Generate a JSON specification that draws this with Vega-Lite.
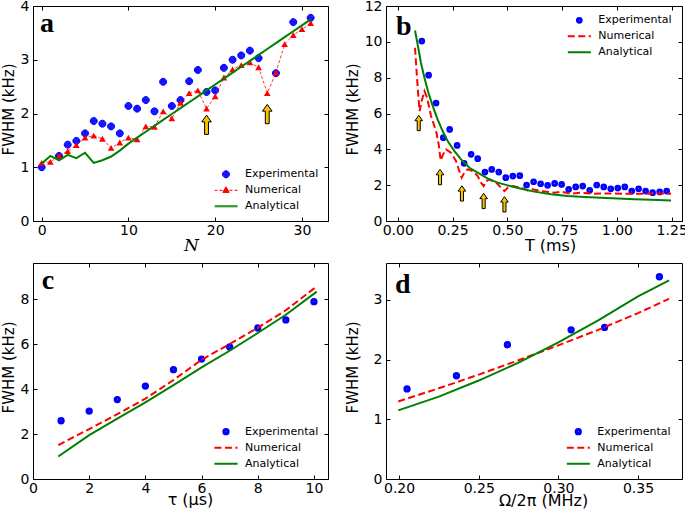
{
  "$schema": "https://vega.github.io/schema/vega-lite/v6.json",
  "background": "white",
  "padding": {"left": 0, "top": -2, "right": 0, "bottom": 0},
  "bounds": "flush",
  "columns": 2,
  "spacing": {"row": 42, "column": 58},
  "resolve": {
    "scale": {"color": "independent", "shape": "independent"},
    "legend": {"color": "independent", "shape": "independent"}
  },
  "config": {
    "font": "DejaVu Sans",
    "view": {"stroke": "black", "strokeWidth": 1},
    "axis": {"grid": false, "domain": false, "ticks": true, "tickSize": -4, "tickColor": "black", "tickWidth": 1,
      "labelFont": "DejaVu Sans", "labelFontSize": 14, "labelColor": "black", "labelPadding": 8, "labelFlush": false, "labelOverlap": false,
      "titleFont": "DejaVu Sans", "titleFontSize": 15, "titleFontWeight": "normal", "titleColor": "black"},
    "axisBottom": {"labelPadding": 6, "titleFontSize": 16},
    "legend": {"title": null, "orient": "none", "columns": 1, "clipHeight": 14, "symbolSize": 196, "symbolOffset": 4, "rowPadding": 2, "padding": 0,
      "labelFont": "DejaVu Sans", "labelFontSize": 11, "labelColor": "black", "labelLimit": 300, "symbolFillColor": "transparent"}
  },
  "datasets": {
    "a_exp": [
      {"x": 0, "y": 1.00, "s": "Experimental"}, {"x": 2, "y": 1.21, "s": "Experimental"}, {"x": 3, "y": 1.42, "s": "Experimental"},
      {"x": 4, "y": 1.49, "s": "Experimental"}, {"x": 5, "y": 1.63, "s": "Experimental"}, {"x": 6, "y": 1.86, "s": "Experimental"},
      {"x": 7, "y": 1.81, "s": "Experimental"}, {"x": 8, "y": 1.76, "s": "Experimental"}, {"x": 9, "y": 1.63, "s": "Experimental"},
      {"x": 10, "y": 2.14, "s": "Experimental"}, {"x": 11, "y": 2.09, "s": "Experimental"}, {"x": 12, "y": 2.25, "s": "Experimental"},
      {"x": 13, "y": 2.04, "s": "Experimental"}, {"x": 14, "y": 2.59, "s": "Experimental"}, {"x": 15, "y": 2.14, "s": "Experimental"},
      {"x": 16, "y": 2.25, "s": "Experimental"}, {"x": 17, "y": 2.60, "s": "Experimental"}, {"x": 18, "y": 2.81, "s": "Experimental"},
      {"x": 19, "y": 2.40, "s": "Experimental"}, {"x": 20, "y": 2.43, "s": "Experimental"}, {"x": 21, "y": 2.85, "s": "Experimental"},
      {"x": 22, "y": 3.00, "s": "Experimental"}, {"x": 23, "y": 3.08, "s": "Experimental"}, {"x": 24, "y": 3.17, "s": "Experimental"},
      {"x": 25, "y": 3.03, "s": "Experimental"}, {"x": 27, "y": 2.75, "s": "Experimental"}, {"x": 29, "y": 3.70, "s": "Experimental"},
      {"x": 31, "y": 3.78, "s": "Experimental"}
    ],
    "a_num": [
      {"x": 0, "y": 1.08}, {"x": 1, "y": 1.10}, {"x": 2, "y": 1.21}, {"x": 3, "y": 1.30}, {"x": 4, "y": 1.41}, {"x": 5, "y": 1.55},
      {"x": 6, "y": 1.59}, {"x": 7, "y": 1.53}, {"x": 8, "y": 1.36}, {"x": 9, "y": 1.46}, {"x": 10, "y": 1.55}, {"x": 11, "y": 1.52},
      {"x": 12, "y": 1.76}, {"x": 13, "y": 1.75}, {"x": 14, "y": 2.04}, {"x": 15, "y": 1.91}, {"x": 16, "y": 2.20}, {"x": 17, "y": 2.38},
      {"x": 18, "y": 2.43}, {"x": 19, "y": 2.09}, {"x": 20, "y": 2.32}, {"x": 21, "y": 2.67}, {"x": 22, "y": 2.82}, {"x": 23, "y": 2.90},
      {"x": 24, "y": 2.95}, {"x": 25, "y": 2.86}, {"x": 26, "y": 2.38}, {"x": 27, "y": 2.76}, {"x": 28, "y": 3.29}, {"x": 29, "y": 3.46},
      {"x": 30, "y": 3.57}, {"x": 31, "y": 3.68}
    ],
    "a_ana": [
      {"x": 0, "y": 1.07}, {"x": 1, "y": 1.21}, {"x": 2, "y": 1.13}, {"x": 3, "y": 1.23}, {"x": 4, "y": 1.17}, {"x": 5, "y": 1.27},
      {"x": 6, "y": 1.08}, {"x": 7, "y": 1.13}, {"x": 8, "y": 1.20}, {"x": 9, "y": 1.31}, {"x": 10, "y": 1.44}, {"x": 11, "y": 1.55},
      {"x": 12, "y": 1.66}, {"x": 13, "y": 1.77}, {"x": 14, "y": 1.88}, {"x": 15, "y": 1.99}, {"x": 16, "y": 2.10}, {"x": 17, "y": 2.21},
      {"x": 18, "y": 2.32}, {"x": 19, "y": 2.43}, {"x": 20, "y": 2.54}, {"x": 21, "y": 2.65}, {"x": 22, "y": 2.76}, {"x": 23, "y": 2.87},
      {"x": 24, "y": 2.98}, {"x": 25, "y": 3.09}, {"x": 26, "y": 3.20}, {"x": 27, "y": 3.31}, {"x": 28, "y": 3.42}, {"x": 29, "y": 3.53},
      {"x": 30, "y": 3.64}, {"x": 31, "y": 3.75}
    ],
    "a_arr": [{"x": 19, "y": 1.79}, {"x": 26, "y": 1.99}],
    "b_exp": [
      {"x": 0.110, "y": 10.04, "s": "Experimental"}, {"x": 0.141, "y": 8.14, "s": "Experimental"}, {"x": 0.175, "y": 6.58, "s": "Experimental"},
      {"x": 0.208, "y": 4.65, "s": "Experimental"}, {"x": 0.237, "y": 5.11, "s": "Experimental"}, {"x": 0.271, "y": 4.22, "s": "Experimental"},
      {"x": 0.303, "y": 3.22, "s": "Experimental"}, {"x": 0.335, "y": 3.72, "s": "Experimental"}, {"x": 0.365, "y": 3.48, "s": "Experimental"},
      {"x": 0.398, "y": 2.73, "s": "Experimental"}, {"x": 0.429, "y": 2.88, "s": "Experimental"}, {"x": 0.461, "y": 2.73, "s": "Experimental"},
      {"x": 0.493, "y": 2.42, "s": "Experimental"}, {"x": 0.525, "y": 2.51, "s": "Experimental"}, {"x": 0.557, "y": 2.53, "s": "Experimental"},
      {"x": 0.588, "y": 2.01, "s": "Experimental"}, {"x": 0.620, "y": 2.19, "s": "Experimental"}, {"x": 0.652, "y": 2.08, "s": "Experimental"},
      {"x": 0.684, "y": 1.99, "s": "Experimental"}, {"x": 0.716, "y": 2.10, "s": "Experimental"}, {"x": 0.748, "y": 2.04, "s": "Experimental"},
      {"x": 0.780, "y": 1.77, "s": "Experimental"}, {"x": 0.812, "y": 1.90, "s": "Experimental"}, {"x": 0.844, "y": 1.95, "s": "Experimental"},
      {"x": 0.876, "y": 1.71, "s": "Experimental"}, {"x": 0.908, "y": 2.01, "s": "Experimental"}, {"x": 0.940, "y": 1.90, "s": "Experimental"},
      {"x": 0.972, "y": 1.80, "s": "Experimental"}, {"x": 1.004, "y": 1.84, "s": "Experimental"}, {"x": 1.036, "y": 1.90, "s": "Experimental"},
      {"x": 1.068, "y": 1.67, "s": "Experimental"}, {"x": 1.099, "y": 1.80, "s": "Experimental"}, {"x": 1.131, "y": 1.67, "s": "Experimental"},
      {"x": 1.163, "y": 1.58, "s": "Experimental"}, {"x": 1.195, "y": 1.62, "s": "Experimental"}, {"x": 1.227, "y": 1.67, "s": "Experimental"}
    ],
    "b_num": [
      {"x": 0.079, "y": 9.67}, {"x": 0.088, "y": 7.99}, {"x": 0.096, "y": 6.69}, {"x": 0.100, "y": 6.13}, {"x": 0.109, "y": 6.69},
      {"x": 0.122, "y": 7.25}, {"x": 0.134, "y": 6.88}, {"x": 0.152, "y": 5.86}, {"x": 0.175, "y": 5.02}, {"x": 0.187, "y": 4.28},
      {"x": 0.196, "y": 3.38}, {"x": 0.207, "y": 3.72}, {"x": 0.220, "y": 4.00}, {"x": 0.243, "y": 3.81}, {"x": 0.266, "y": 3.35},
      {"x": 0.281, "y": 2.79}, {"x": 0.292, "y": 2.42}, {"x": 0.304, "y": 2.70}, {"x": 0.319, "y": 2.88}, {"x": 0.342, "y": 2.79},
      {"x": 0.365, "y": 2.51}, {"x": 0.380, "y": 2.14}, {"x": 0.392, "y": 1.95}, {"x": 0.404, "y": 2.23}, {"x": 0.418, "y": 2.32},
      {"x": 0.449, "y": 2.14}, {"x": 0.471, "y": 1.86}, {"x": 0.487, "y": 1.67}, {"x": 0.502, "y": 1.86}, {"x": 0.525, "y": 1.95},
      {"x": 0.563, "y": 1.86}, {"x": 0.593, "y": 1.71}, {"x": 0.616, "y": 1.77}, {"x": 0.654, "y": 1.67}, {"x": 0.715, "y": 1.58},
      {"x": 0.745, "y": 1.64}, {"x": 0.791, "y": 1.52}, {"x": 0.836, "y": 1.58}, {"x": 0.897, "y": 1.52}, {"x": 0.958, "y": 1.54},
      {"x": 1.034, "y": 1.52}, {"x": 1.110, "y": 1.52}, {"x": 1.186, "y": 1.54}, {"x": 1.247, "y": 1.52}
    ],
    "b_ana": [
      {"x": 0.079, "y": 10.63}, {"x": 0.091, "y": 9.85}, {"x": 0.106, "y": 8.83}, {"x": 0.122, "y": 7.99}, {"x": 0.140, "y": 7.16},
      {"x": 0.160, "y": 6.41}, {"x": 0.182, "y": 5.67}, {"x": 0.205, "y": 5.02}, {"x": 0.228, "y": 4.46}, {"x": 0.259, "y": 3.90},
      {"x": 0.289, "y": 3.44}, {"x": 0.327, "y": 2.97}, {"x": 0.365, "y": 2.70}, {"x": 0.411, "y": 2.36}, {"x": 0.456, "y": 2.14},
      {"x": 0.502, "y": 1.99}, {"x": 0.563, "y": 1.80}, {"x": 0.623, "y": 1.64}, {"x": 0.700, "y": 1.49}, {"x": 0.776, "y": 1.39},
      {"x": 0.852, "y": 1.34}, {"x": 0.928, "y": 1.30}, {"x": 1.004, "y": 1.25}, {"x": 1.080, "y": 1.21}, {"x": 1.156, "y": 1.19},
      {"x": 1.247, "y": 1.15}
    ],
    "b_arr": [{"x": 0.096, "y": 5.47}, {"x": 0.193, "y": 2.45}, {"x": 0.293, "y": 1.54}, {"x": 0.392, "y": 1.12}, {"x": 0.487, "y": 0.93}],
    "c_exp": [
      {"x": 1, "y": 2.59, "s": "Experimental"}, {"x": 2, "y": 3.02, "s": "Experimental"}, {"x": 3, "y": 3.53, "s": "Experimental"},
      {"x": 4, "y": 4.13, "s": "Experimental"}, {"x": 5, "y": 4.86, "s": "Experimental"}, {"x": 6, "y": 5.33, "s": "Experimental"},
      {"x": 7, "y": 5.87, "s": "Experimental"}, {"x": 8, "y": 6.71, "s": "Experimental"}, {"x": 9, "y": 7.07, "s": "Experimental"},
      {"x": 10, "y": 7.88, "s": "Experimental"}
    ],
    "c_num": [
      {"x": 0.9, "y": 1.51}, {"x": 2, "y": 2.22}, {"x": 3, "y": 2.88}, {"x": 4, "y": 3.57}, {"x": 5, "y": 4.40}, {"x": 6, "y": 5.30},
      {"x": 7, "y": 6.00}, {"x": 8, "y": 6.72}, {"x": 9, "y": 7.50}, {"x": 10.1, "y": 8.56}
    ],
    "c_ana": [
      {"x": 0.9, "y": 1.00}, {"x": 2, "y": 1.95}, {"x": 3, "y": 2.68}, {"x": 4, "y": 3.41}, {"x": 5, "y": 4.17}, {"x": 6, "y": 4.96},
      {"x": 7, "y": 5.70}, {"x": 8, "y": 6.49}, {"x": 9, "y": 7.30}, {"x": 10.1, "y": 8.33}
    ],
    "d_exp": [
      {"x": 0.205, "y": 1.51, "s": "Experimental"}, {"x": 0.236, "y": 1.73, "s": "Experimental"}, {"x": 0.268, "y": 2.25, "s": "Experimental"},
      {"x": 0.308, "y": 2.50, "s": "Experimental"}, {"x": 0.329, "y": 2.54, "s": "Experimental"}, {"x": 0.3634, "y": 3.39, "s": "Experimental"}
    ],
    "d_num": [
      {"x": 0.1995, "y": 1.30}, {"x": 0.225, "y": 1.52}, {"x": 0.25, "y": 1.75}, {"x": 0.275, "y": 1.99}, {"x": 0.30, "y": 2.24},
      {"x": 0.325, "y": 2.50}, {"x": 0.35, "y": 2.78}, {"x": 0.3695, "y": 3.02}
    ],
    "d_ana": [
      {"x": 0.1995, "y": 1.15}, {"x": 0.225, "y": 1.38}, {"x": 0.25, "y": 1.65}, {"x": 0.275, "y": 1.95}, {"x": 0.30, "y": 2.29},
      {"x": 0.325, "y": 2.66}, {"x": 0.35, "y": 3.06}, {"x": 0.3695, "y": 3.33}
    ]
  },
  "concat": [
    {
      "width": 295, "height": 215,
      "resolve": {"axis": {"x": "independent", "y": "independent"}},
      "layer": [
        {
          "data": {"name": "a_exp"},
          "mark": {"type": "point", "filled": false, "size": 196, "strokeWidth": 1, "opacity": 1},
          "encoding": {
            "x": {"field": "x", "type": "quantitative", "scale": {"domain": [-1, 33], "nice": false, "zero": false},
              "axis": {"orient": "bottom", "values": [0, 10, 20, 30], "title": "N", "titleFont": "DejaVu Serif", "titleFontStyle": "italic", "titleFontSize": 17, "titleX": 158, "titleY": 29, "titleBaseline": "alphabetic"}},
            "y": {"field": "y", "type": "quantitative", "scale": {"domain": [0, 4], "nice": false, "zero": false},
              "axis": {"orient": "left", "values": [0, 1, 2, 3, 4], "title": "FWHM (kHz)", "titleX": -20, "titleY": 103, "titleBaseline": "alphabetic"}},
            "color": {"field": "s", "type": "nominal",
              "scale": {"domain": ["Experimental", "Numerical", "Analytical"], "range": ["#0000ff", "#ff0000", "#007f00"]},
              "legend": {"legendX": 181.5, "legendY": 161.3, "labelOffset": 11.5, "symbolStrokeWidth": 1}},
            "shape": {"field": "s", "type": "nominal",
              "scale": {"domain": ["Experimental", "Numerical", "Analytical"], "range": [
                "M0.5,0A0.5,0.5 0 1,1 -0.5,0A0.5,0.5 0 1,1 0.5,0ZM0.4286,0A0.4286,0.4286 0 1,1 -0.4286,0A0.4286,0.4286 0 1,1 0.4286,0ZM0.357,0A0.357,0.357 0 1,1 -0.357,0A0.357,0.357 0 1,1 0.357,0ZM0.2857,0A0.2857,0.2857 0 1,1 -0.2857,0A0.2857,0.2857 0 1,1 0.2857,0ZM0.214,0A0.214,0.214 0 1,1 -0.214,0A0.214,0.214 0 1,1 0.214,0ZM0.143,0A0.143,0.143 0 1,1 -0.143,0A0.143,0.143 0 1,1 0.143,0ZM0.071,0A0.071,0.071 0 1,1 -0.071,0A0.071,0.071 0 1,1 0.071,0Z",
                "M-1.65,0L-1.22,0M-0.93,0L-0.5,0M0.5,0L0.93,0M1.22,0L1.65,0M0,-0.5L0.45,0.3L-0.45,0.3ZM0,-0.4L0.39,0.26L-0.39,0.26ZM0,-0.3L0.3,0.21L-0.3,0.21ZM0,-0.2L0.22,0.16L-0.22,0.16ZM0,-0.1L0.12,0.1L-0.12,0.1Z",
                "M-1.65,-0.07L1.65,-0.07M-1.65,0.07L1.65,0.07"]},
              "legend": {"legendX": 181.5, "legendY": 161.3, "labelOffset": 11.5, "symbolStrokeWidth": 1}}
          }
        },
        {
          "data": {"name": "a_num"},
          "mark": {"type": "line", "color": "#ff0000", "strokeWidth": 0.8, "strokeDash": [3, 2]},
          "encoding": {
            "x": {"field": "x", "type": "quantitative", "axis": {"orient": "top", "values": [0, 10, 20, 30], "labels": false, "title": null}},
            "y": {"field": "y", "type": "quantitative", "axis": {"orient": "right", "values": [0, 1, 2, 3, 4], "labels": false, "title": null}}
          }
        },
        {
          "data": {"name": "a_num"},
          "mark": {"type": "point", "shape": "triangle-up", "filled": true, "size": 45, "color": "#ff0000", "opacity": 1},
          "encoding": {
            "x": {"field": "x", "type": "quantitative", "axis": null},
            "y": {"field": "y", "type": "quantitative", "axis": null}
          }
        },
        {
          "data": {"name": "a_ana"},
          "mark": {"type": "line", "color": "#007f00", "strokeWidth": 2},
          "encoding": {
            "x": {"field": "x", "type": "quantitative", "axis": null},
            "y": {"field": "y", "type": "quantitative", "axis": null}
          }
        },
        {
          "data": {"name": "a_arr"},
          "mark": {"type": "point", "shape": "M0,-1L0.5,-0.3L0.2,-0.3L0.2,1L-0.2,1L-0.2,-0.3L-0.5,-0.3Z", "filled": true, "size": 372, "fill": "#f8c400", "stroke": "black", "strokeWidth": 1, "opacity": 1},
          "encoding": {
            "x": {"field": "x", "type": "quantitative", "axis": null},
            "y": {"field": "y", "type": "quantitative", "axis": null}
          }
        },
        {
          "data": {"values": [{"label": "a"}]},
          "mark": {"type": "text", "font": "Liberation Serif", "fontSize": 28, "fontWeight": "bold", "align": "left", "baseline": "alphabetic", "color": "black"},
          "encoding": {
            "x": {"datum": -0.193, "type": "quantitative", "axis": null},
            "y": {"datum": 3.522, "type": "quantitative", "axis": null},
            "text": {"field": "label"}
          }
        }
      ]
    },
    {
      "width": 296, "height": 215,
      "resolve": {"axis": {"x": "independent", "y": "independent"}},
      "layer": [
        {
          "data": {"name": "b_exp"},
          "mark": {"type": "point", "filled": false, "size": 196, "strokeWidth": 2, "opacity": 1},
          "encoding": {
            "x": {"field": "x", "type": "quantitative", "scale": {"domain": [-0.0534, 1.297], "nice": false, "zero": false},
              "axis": {"orient": "bottom", "values": [0, 0.25, 0.5, 0.75, 1, 1.25], "format": ".2f", "title": "T (ms)", "titleX": 164, "titleY": 29, "titleBaseline": "alphabetic"}},
            "y": {"field": "y", "type": "quantitative", "scale": {"domain": [0, 12], "nice": false, "zero": false},
              "axis": {"orient": "left", "values": [0, 2, 4, 6, 8, 10, 12], "title": "FWHM (kHz)", "titleX": -29, "titleY": 103, "titleBaseline": "alphabetic"}},
            "color": {"field": "s", "type": "nominal",
              "scale": {"domain": ["Experimental", "Numerical", "Analytical"], "range": ["#0000ff", "#ff0000", "#007f00"]},
              "legend": {"legendX": 181.3, "legendY": 7.3, "labelOffset": 11, "symbolStrokeWidth": 2}},
            "shape": {"field": "s", "type": "nominal",
              "scale": {"domain": ["Experimental", "Numerical", "Analytical"], "range": [
                "M0.336,0A0.336,0.336 0 1,1 -0.336,0A0.336,0.336 0 1,1 0.336,0ZM0.2,0A0.2,0.2 0 1,1 -0.2,0A0.2,0.2 0 1,1 0.2,0ZM0.06,0A0.06,0.06 0 1,1 -0.06,0A0.06,0.06 0 1,1 0.06,0Z",
                "M-1.65,0L-0.65,0M-0.15,0L0.85,0M1.35,0L1.65,0",
                "M-1.65,0L1.65,0"]},
              "legend": {"legendX": 181.3, "legendY": 7.3, "labelOffset": 11, "symbolStrokeWidth": 2}}
          }
        },
        {
          "data": {"name": "b_num"},
          "mark": {"type": "line", "color": "#ff0000", "strokeWidth": 2, "strokeDash": [7, 3.5]},
          "encoding": {
            "x": {"field": "x", "type": "quantitative", "axis": {"orient": "top", "values": [0, 0.25, 0.5, 0.75, 1, 1.25], "labels": false, "title": null}},
            "y": {"field": "y", "type": "quantitative", "axis": {"orient": "right", "values": [0, 2, 4, 6, 8, 10, 12], "labels": false, "title": null}}
          }
        },
        {
          "data": {"name": "b_ana"},
          "mark": {"type": "line", "color": "#007f00", "strokeWidth": 2},
          "encoding": {
            "x": {"field": "x", "type": "quantitative", "axis": null},
            "y": {"field": "y", "type": "quantitative", "axis": null}
          }
        },
        {
          "data": {"name": "b_arr"},
          "mark": {"type": "point", "shape": "M0,-1L0.5,-0.3L0.2,-0.3L0.2,1L-0.2,1L-0.2,-0.3L-0.5,-0.3Z", "filled": true, "size": 234, "fill": "#f8c400", "stroke": "black", "strokeWidth": 1, "opacity": 1},
          "encoding": {
            "x": {"field": "x", "type": "quantitative", "axis": null},
            "y": {"field": "y", "type": "quantitative", "axis": null}
          }
        },
        {
          "data": {"values": [{"label": "b"}]},
          "mark": {"type": "text", "font": "Liberation Serif", "fontSize": 28, "fontWeight": "bold", "align": "left", "baseline": "alphabetic", "color": "black"},
          "encoding": {
            "x": {"datum": -0.0078, "type": "quantitative", "axis": null},
            "y": {"datum": 10.365, "type": "quantitative", "axis": null},
            "text": {"field": "label"}
          }
        }
      ]
    },
    {
      "width": 295, "height": 216,
      "resolve": {"axis": {"x": "independent", "y": "independent"}},
      "layer": [
        {
          "data": {"name": "c_exp"},
          "mark": {"type": "point", "filled": false, "size": 196, "strokeWidth": 2, "opacity": 1},
          "encoding": {
            "x": {"field": "x", "type": "quantitative", "scale": {"domain": [0, 10.5], "nice": false, "zero": false},
              "axis": {"orient": "bottom", "values": [0, 2, 4, 6, 8, 10], "title": "τ (μs)", "titleX": 157, "titleY": 25, "titleBaseline": "alphabetic"}},
            "y": {"field": "y", "type": "quantitative", "scale": {"domain": [0, 9.6], "nice": false, "zero": false},
              "axis": {"orient": "left", "values": [0, 2, 4, 6, 8], "title": "FWHM (kHz)", "titleX": -20, "titleY": 104, "titleBaseline": "alphabetic"}},
            "color": {"field": "s", "type": "nominal",
              "scale": {"domain": ["Experimental", "Numerical", "Analytical"], "range": ["#0000ff", "#ff0000", "#007f00"]},
              "legend": {"legendX": 181, "legendY": 161.7, "labelOffset": 11, "symbolStrokeWidth": 2}},
            "shape": {"field": "s", "type": "nominal",
              "scale": {"domain": ["Experimental", "Numerical", "Analytical"], "range": [
                "M0.379,0A0.379,0.379 0 1,1 -0.379,0A0.379,0.379 0 1,1 0.379,0ZM0.236,0A0.236,0.236 0 1,1 -0.236,0A0.236,0.236 0 1,1 0.236,0ZM0.093,0A0.093,0.093 0 1,1 -0.093,0A0.093,0.093 0 1,1 0.093,0Z",
                "M-1.65,0L-0.65,0M-0.15,0L0.85,0M1.35,0L1.65,0",
                "M-1.65,0L1.65,0"]},
              "legend": {"legendX": 181, "legendY": 161.7, "labelOffset": 11, "symbolStrokeWidth": 2}}
          }
        },
        {
          "data": {"name": "c_num"},
          "mark": {"type": "line", "color": "#ff0000", "strokeWidth": 2, "strokeDash": [7, 3.5]},
          "encoding": {
            "x": {"field": "x", "type": "quantitative", "axis": {"orient": "top", "values": [0, 2, 4, 6, 8, 10], "labels": false, "title": null}},
            "y": {"field": "y", "type": "quantitative", "axis": {"orient": "right", "values": [0, 2, 4, 6, 8], "labels": false, "title": null}}
          }
        },
        {
          "data": {"name": "c_ana"},
          "mark": {"type": "line", "color": "#007f00", "strokeWidth": 2},
          "encoding": {
            "x": {"field": "x", "type": "quantitative", "axis": null},
            "y": {"field": "y", "type": "quantitative", "axis": null}
          }
        },
        {
          "data": {"values": [{"label": "c"}]},
          "mark": {"type": "text", "font": "Liberation Serif", "fontSize": 28, "fontWeight": "bold", "align": "left", "baseline": "alphabetic", "color": "black"},
          "encoding": {
            "x": {"datum": 0.31, "type": "quantitative", "axis": null},
            "y": {"datum": 8.43, "type": "quantitative", "axis": null},
            "text": {"field": "label"}
          }
        }
      ]
    },
    {
      "width": 296, "height": 216,
      "resolve": {"axis": {"x": "independent", "y": "independent"}},
      "layer": [
        {
          "data": {"name": "d_exp"},
          "mark": {"type": "point", "filled": false, "size": 196, "strokeWidth": 2, "opacity": 1},
          "encoding": {
            "x": {"field": "x", "type": "quantitative", "scale": {"domain": [0.1918, 0.3776], "nice": false, "zero": false},
              "axis": {"orient": "bottom", "values": [0.2, 0.25, 0.3, 0.35], "format": ".2f", "title": "Ω/2π (MHz)", "titleX": 157, "titleY": 26, "titleBaseline": "alphabetic"}},
            "y": {"field": "y", "type": "quantitative", "scale": {"domain": [0, 3.62], "nice": false, "zero": false},
              "axis": {"orient": "left", "values": [0, 1, 2, 3], "title": "FWHM (kHz)", "titleX": -29, "titleY": 104, "titleBaseline": "alphabetic"}},
            "color": {"field": "s", "type": "nominal",
              "scale": {"domain": ["Experimental", "Numerical", "Analytical"], "range": ["#0000ff", "#ff0000", "#007f00"]},
              "legend": {"legendX": 180.3, "legendY": 161.7, "labelOffset": 11, "symbolStrokeWidth": 2}},
            "shape": {"field": "s", "type": "nominal",
              "scale": {"domain": ["Experimental", "Numerical", "Analytical"], "range": [
                "M0.379,0A0.379,0.379 0 1,1 -0.379,0A0.379,0.379 0 1,1 0.379,0ZM0.236,0A0.236,0.236 0 1,1 -0.236,0A0.236,0.236 0 1,1 0.236,0ZM0.093,0A0.093,0.093 0 1,1 -0.093,0A0.093,0.093 0 1,1 0.093,0Z",
                "M-1.65,0L-0.65,0M-0.15,0L0.85,0M1.35,0L1.65,0",
                "M-1.65,0L1.65,0"]},
              "legend": {"legendX": 180.3, "legendY": 161.7, "labelOffset": 11, "symbolStrokeWidth": 2}}
          }
        },
        {
          "data": {"name": "d_num"},
          "mark": {"type": "line", "color": "#ff0000", "strokeWidth": 2, "strokeDash": [7, 3.5]},
          "encoding": {
            "x": {"field": "x", "type": "quantitative", "axis": {"orient": "top", "values": [0.2, 0.25, 0.3, 0.35], "labels": false, "title": null}},
            "y": {"field": "y", "type": "quantitative", "axis": {"orient": "right", "values": [0, 1, 2, 3], "labels": false, "title": null}}
          }
        },
        {
          "data": {"name": "d_ana"},
          "mark": {"type": "line", "color": "#007f00", "strokeWidth": 2},
          "encoding": {
            "x": {"field": "x", "type": "quantitative", "axis": null},
            "y": {"field": "y", "type": "quantitative", "axis": null}
          }
        },
        {
          "data": {"values": [{"label": "d"}]},
          "mark": {"type": "text", "font": "Liberation Serif", "fontSize": 28, "fontWeight": "bold", "align": "left", "baseline": "alphabetic", "color": "black"},
          "encoding": {
            "x": {"datum": 0.1975, "type": "quantitative", "axis": null},
            "y": {"datum": 3.112, "type": "quantitative", "axis": null},
            "text": {"field": "label"}
          }
        }
      ]
    }
  ]
}
